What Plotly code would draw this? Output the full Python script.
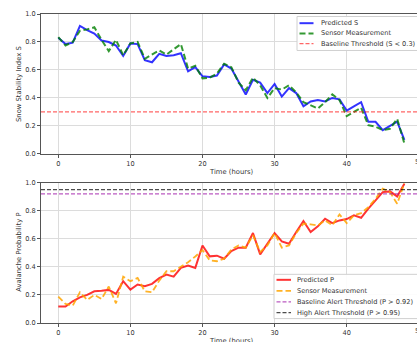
import plotly.graph_objects as go

# ---------------- data ----------------
hours = list(range(49))

pred_s = [0.83, 0.785, 0.795, 0.915, 0.885, 0.86, 0.81, 0.80, 0.775, 0.70,
          0.79, 0.785, 0.67, 0.655, 0.715, 0.70, 0.705, 0.72, 0.59, 0.62,
          0.555, 0.55, 0.56, 0.64, 0.61, 0.515, 0.425, 0.53, 0.51, 0.435,
          0.50, 0.41, 0.47, 0.435, 0.34, 0.375, 0.385, 0.375, 0.40, 0.39,
          0.31, 0.34, 0.37, 0.23, 0.23, 0.17, 0.20, 0.23, 0.10]

sensor_s = [0.835, 0.775, 0.80, 0.88, 0.89, 0.905, 0.815, 0.735, 0.815, 0.705,
            0.79, 0.80, 0.68, 0.71, 0.74, 0.71, 0.75, 0.785, 0.61, 0.63,
            0.54, 0.545, 0.575, 0.645, 0.62, 0.51, 0.455, 0.545, 0.49, 0.40,
            0.47, 0.46, 0.49, 0.44, 0.37, 0.345, 0.325, 0.37, 0.425, 0.385,
            0.27, 0.30, 0.33, 0.205, 0.195, 0.17, 0.18, 0.25, 0.075]

pred_p = [0.117, 0.117, 0.155, 0.183, 0.20, 0.226, 0.23, 0.236, 0.207, 0.298,
          0.238, 0.274, 0.262, 0.279, 0.32, 0.345, 0.33, 0.393, 0.41, 0.393,
          0.552, 0.475, 0.48, 0.458, 0.513, 0.537, 0.537, 0.641, 0.489, 0.565,
          0.641, 0.582, 0.565, 0.648, 0.727, 0.648, 0.689, 0.743, 0.712, 0.731,
          0.741, 0.767, 0.75, 0.815, 0.874, 0.933, 0.938, 0.902, 0.993]

sensor_p = [0.188, 0.136, 0.124, 0.219, 0.164, 0.20, 0.171, 0.26, 0.14, 0.33,
            0.298, 0.321, 0.226, 0.219, 0.302, 0.369, 0.369, 0.402, 0.433, 0.474,
            0.52, 0.447, 0.44, 0.458, 0.523, 0.553, 0.537, 0.625, 0.506, 0.553,
            0.641, 0.537, 0.553, 0.641, 0.708, 0.703, 0.696, 0.731, 0.696, 0.774,
            0.712, 0.767, 0.783, 0.826, 0.886, 0.957, 0.933, 0.85, 0.997]

s_threshold = 0.3
p_baseline = 0.92
p_high = 0.95

x_ticks = [0, 10, 20, 30, 40]
y_ticks = [0.0, 0.2, 0.4, 0.6, 0.8, 1.0]

labels_top = ["Predicted S", "Sensor Measurement", "Baseline Threshold (S < 0.3)"]
labels_bot = ["Predicted P", "Sensor Measurement",
              "Baseline Alert Threshold (P > 0.92)", "High Alert Threshold (P > 0.95)"]

# ---------------- styles ----------------
FONT = "DejaVu Sans"
W, H = 417, 342
ML, MR, MT, MB = 41, 0, 13.5, 19.3
XR = [-2.4, 49.75]

C_BLUE = "rgba(0,0,255,0.8)"
C_GREEN = "rgba(0,128,0,0.8)"
C_RED = "rgba(255,0,0,0.8)"
C_ORANGE = "rgba(255,165,0,0.85)"
C_THR = "rgba(255,0,0,0.6)"
C_PURPLE = "rgba(150,0,160,0.65)"
C_BLACK = "rgba(0,0,0,0.7)"
DASH = "6px,3px"
DASH_T = "4px,2px"

styles_top = [(C_BLUE, "solid", 2), (C_GREEN, DASH, 2), (C_THR, DASH_T, 1.3)]
styles_bot = [(C_RED, "solid", 2), (C_ORANGE, DASH, 1.8),
              (C_PURPLE, DASH_T, 1.3), (C_BLACK, DASH_T, 1.3)]

fig = go.Figure()

fig.add_trace(go.Scatter(x=hours, y=pred_s, mode="lines", name=labels_top[0],
                         line=dict(color=C_BLUE, width=2), xaxis="x", yaxis="y"))
fig.add_trace(go.Scatter(x=hours, y=sensor_s, mode="lines", name=labels_top[1],
                         line=dict(color=C_GREEN, width=2, dash=DASH), xaxis="x", yaxis="y"))
fig.add_trace(go.Scatter(x=hours, y=pred_p, mode="lines", name=labels_bot[0],
                         line=dict(color=C_RED, width=2), xaxis="x2", yaxis="y2"))
fig.add_trace(go.Scatter(x=hours, y=sensor_p, mode="lines", name=labels_bot[1],
                         line=dict(color=C_ORANGE, width=1.8, dash=DASH), xaxis="x2", yaxis="y2"))

# threshold lines (span the full axis width)
for xr, yr, val, (col, dash, w) in [("x domain", "y", s_threshold, styles_top[2]),
                                     ("x2 domain", "y2", p_baseline, styles_bot[2]),
                                     ("x2 domain", "y2", p_high, styles_bot[3])]:
    fig.add_shape(type="line", xref=xr, yref=yr, x0=0, x1=1, y0=val, y1=val,
                  line=dict(color=col, width=w, dash=dash), layer="above")

# ---------------- axes ----------------
plot_h = H - MT - MB
top_dom = [(H - MB - 153.5) / plot_h, 1.0]
bot_dom = [0.0, (H - MB - 182.3) / plot_h]

axis_common = dict(showline=True, linecolor="#555", linewidth=1,
                   showgrid=True, gridcolor="#dcdcdc", gridwidth=1,
                   ticks="outside", ticklen=3, tickwidth=1, tickcolor="#555",
                   tickfont=dict(family=FONT, size=6.6, color="#333"),
                   zeroline=False)

fig.update_layout(
    xaxis=dict(range=XR, tickvals=x_ticks, mirror=True, anchor="y", **axis_common),
    yaxis=dict(range=[0, 1], tickvals=y_ticks, tickformat=".1f", domain=top_dom,
               anchor="x", **axis_common),
    xaxis2=dict(range=XR, tickvals=x_ticks, mirror=True, anchor="y2", **axis_common),
    yaxis2=dict(range=[0, 1], tickvals=y_ticks, tickformat=".1f", domain=bot_dom,
                anchor="x2", **axis_common),
    width=W, height=H,
    margin=dict(l=ML, r=MR, t=MT, b=MB, pad=0),
    plot_bgcolor="white", paper_bgcolor="white",
    showlegend=False,
    font=dict(family=FONT, size=6.8, color="#333"),
)

# axis titles
tfont = dict(family=FONT, size=6.8, color="#333")
fig.add_annotation(text="Snow Stability Index S", xref="paper", yref="y domain",
                   x=(19 - ML) / (W - ML - MR), y=0.5, textangle=-90,
                   showarrow=False, font=tfont, xanchor="center", yanchor="middle")
fig.add_annotation(text="Avalanche Probability P", xref="paper", yref="y2 domain",
                   x=(19 - ML) / (W - ML - MR), y=0.5, textangle=-90,
                   showarrow=False, font=tfont, xanchor="center", yanchor="middle")
xmid = (XR[0] + 50.4) / 2
for ydom in ["y domain", "y2 domain"]:
    fig.add_annotation(text="Time (hours)", xref="paper", yref=ydom,
                       x=(xmid - XR[0]) / (XR[1] - XR[0]), y=0, yshift=-18.2,
                       showarrow=False, font=tfont, xanchor="center", yanchor="middle")
    # partially visible "50" tick label at the clipped right edge
    fig.add_annotation(text="50", xref="paper", yref=ydom,
                       x=(50 - XR[0]) / (XR[1] - XR[0]), y=0, yshift=-7.8,
                       showarrow=False, font=dict(family=FONT, size=6.6, color="#333"),
                       xanchor="center", yanchor="middle")

# ---------------- manual legends (matplotlib-like compact boxes) ----------------
def pxx(p):
    return (p - ML) / (W - ML - MR)


def pxy(p):
    return (H - MB - p) / plot_h


def draw_legend(labels, styles, box, rows, hx0, hx1, tx):
    x0, y0, x1, y1 = box
    fig.add_shape(type="rect", xref="paper", yref="paper",
                  x0=pxx(x0), x1=pxx(x1), y0=pxy(y1), y1=pxy(y0),
                  line=dict(color="#d0d0d0", width=1),
                  fillcolor="rgba(255,255,255,0.9)", layer="above")
    for lab, (col, dash, w), ry in zip(labels, styles, rows):
        fig.add_shape(type="line", xref="paper", yref="paper",
                      x0=pxx(hx0), x1=pxx(hx1), y0=pxy(ry), y1=pxy(ry),
                      line=dict(color=col, width=w, dash=dash), layer="above")
        fig.add_annotation(text=lab, xref="paper", yref="paper", x=pxx(tx), y=pxy(ry),
                           xanchor="left", yanchor="middle", showarrow=False,
                           font=dict(family=FONT, size=6.6, color="#333"))


draw_legend(labels_top, styles_top, (297, 16, 422, 50), [22.7, 32.9, 43.2],
            299.5, 313.5, 318.5)
draw_legend(labels_bot, styles_bot, (274, 274, 422, 318.3), [279.5, 290.6, 301.5, 312.3],
            276.5, 291, 295)

fig.write_html("out.html",
               config={"displayModeBar": False, "staticPlot": True},
               post_script="document.body.style.margin='0';"
                           "document.body.style.padding='0';"
                           "document.body.style.overflow='hidden';")
